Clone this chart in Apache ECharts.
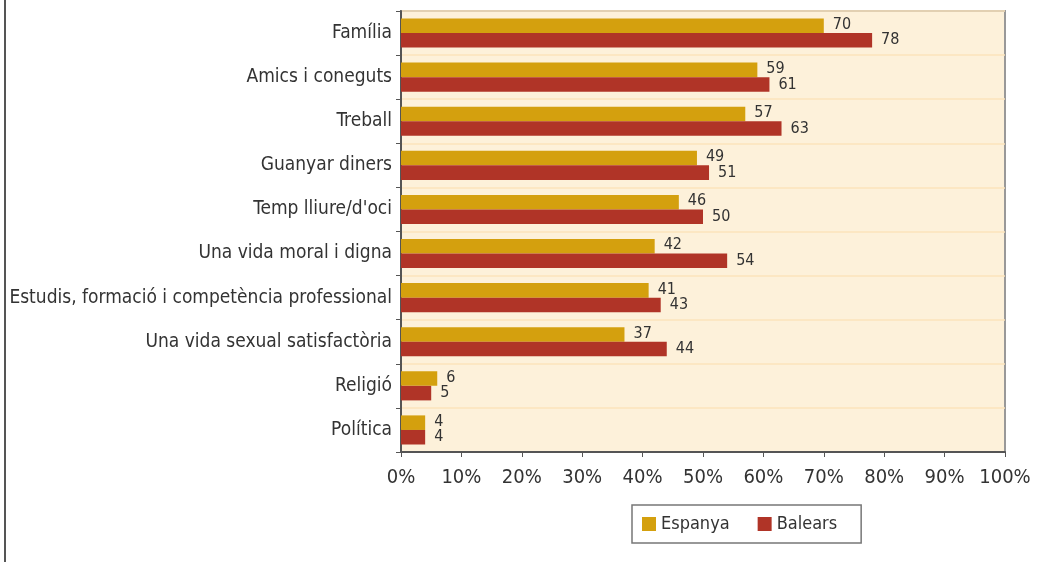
<!DOCTYPE html>
<html>
<head>
<meta charset="utf-8">
<script src="https://cdn.jsdelivr.net/npm/echarts@6/dist/echarts.min.js"></script>
<style>
  html, body { margin: 0; padding: 0; background: #fff; }
  #chart { width: 1040px; height: 562px; }
  .frame { position: absolute; left: 4px; top: 0; width: 2px; height: 562px; background: #555; }
</style>
</head>
<body>
<div class="frame"></div>
<div id="chart"></div>
<script>
const categories = [
  "Família",
  "Amics i coneguts",
  "Treball",
  "Guanyar diners",
  "Temp lliure/d'oci",
  "Una vida moral i digna",
  "Estudis, formació i competència professional",
  "Una vida sexual satisfactòria",
  "Religió",
  "Política",
];
const espanya = [70, 59, 57, 49, 46, 42, 41, 37, 6, 4];
const balears = [78, 61, 63, 51, 50, 54, 43, 44, 5, 4];

const font = "'Liberation Sans Narrow', 'DejaVu Sans Condensed', sans-serif";

const chart = echarts.init(document.getElementById("chart"));
chart.setOption({
  animation: false,
  textStyle: { fontFamily: font },
  grid: {
    left: 401, right: 35, top: 11, bottom: 110,
    show: true, backgroundColor: "#fdf1da", borderColor: "#999", borderWidth: 2,
  },
  legend: {
    bottom: 19, left: 632,
    padding: [10, 24, 10, 10],
    itemWidth: 14, itemHeight: 14, itemGap: 28,
    borderColor: "#777", borderWidth: 1.5,
    textStyle: { fontSize: 18, color: "#333", fontFamily: font },
    icon: "rect",
    data: ["Espanya", "Balears"],
  },
  xAxis: {
    type: "value", min: 0, max: 100, interval: 10,
    axisLine: { show: true, lineStyle: { color: "#555", width: 2 } },
    axisTick: { show: true, length: 5, lineStyle: { color: "#555" } },
    splitLine: { show: false },
    axisLabel: { formatter: "{value}%", fontSize: 20, color: "#333", margin: 16 },
  },
  yAxis: {
    type: "category", inverse: true, data: categories,
    axisLine: { show: true, lineStyle: { color: "#555", width: 2 } },
    axisTick: { show: true, length: 5, lineStyle: { color: "#555" } },
    splitLine: { show: true, lineStyle: { color: "#fbe3bb", width: 1.5 } },
    axisLabel: { fontSize: 19, color: "#333", margin: 9 },
  },
  series: [
    {
      name: "Espanya", type: "bar", data: espanya,
      barGap: "0%", barCategoryGap: "34%",
      itemStyle: { color: "#d4a00e" },
      label: { show: true, position: "right", distance: 9, fontSize: 16, color: "#333", offset: [0, -1] },
    },
    {
      name: "Balears", type: "bar", data: balears,
      itemStyle: { color: "#b03427" },
      label: { show: true, position: "right", distance: 9, fontSize: 16, color: "#333", offset: [0, 0] },
    },
  ],
});
</script>
</body>
</html>
